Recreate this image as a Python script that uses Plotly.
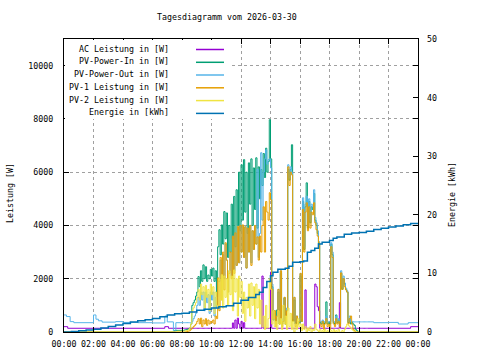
import plotly.graph_objects as go

DAY = "2026-03-30"

def ts(s):
    if s == "24:00":
        return "2026-03-31 00:00"
    return f"{DAY} {s}"

# day grid, 5-minute samples 08:00 .. 20:30
DAY_T = [f"{8 + i // 12:02d}:{(i % 12) * 5:02d}" for i in range(151)]

# ---------------- AC Leistung [W]
AC_MORN_T = ["00:00", "00:15", "06:50", "07:05"]
AC_MORN = [200, 140, 200, 140]
AC_DAY = (
    [140] * 12 +  # 08
    [140] * 12 +  # 09
    [140] * 12 +  # 10
    [140, 140, 140, 140, 140, 340, 140, 450, 140, 520, 300, 140] +  # 11
    [400, 140, 350, 140, 140, 140, 140, 140, 140, 140, 140, 140] +  # 12
    [140, 140, 140, 140, 140, 2100, 140, 140, 140, 140, 140, 140] +  # 13
    [2250, 140, 140, 140, 140, 140, 140, 140, 140, 140, 140, 140] +  # 14
    [140] * 12 +  # 15
    [140, 140, 140, 140, 1580, 140, 140, 140, 140, 140, 140, 140] +  # 16
    [1800, 1700, 950, 800, 140, 140, 140, 140, 140, 140, 140, 140] +  # 17
    [140, 140, 140, 140, 140, 140, 140, 140, 1100, 140, 140, 140] +  # 18
    [140] * 12 +  # 19
    [140] * 7     # 20
)
AC_EVE_T = ["20:35", "23:30", "24:00"]
AC_EVE = [140, 200, 200]

# ---------------- PV-Power-In [W]
PVIN_MORN_T = ["00:00", "07:30"]
PVIN_MORN = [0, 60]
PVIN_DAY = (
    [60, 60, 80, 90, 100, 120, 150, 300, 1000, 1100, 1200, 1350] +
    [1500, 2080, 1700, 2300, 1900, 2520, 2000, 2450, 1900, 2140, 2000, 2350] +
    [2100, 2400, 1900, 2300, 1330, 3200, 3840, 2900, 4020, 3300, 4520, 3500] +
    [4470, 2800, 4000, 3000, 4800, 3500, 5090, 3200, 5340, 4000, 6000, 3800] +
    [6280, 4200, 6470, 4500, 6000, 3700, 6350, 4800, 6500, 4000, 6160, 4600] +
    [6540, 3900, 6200, 5000, 6100, 5500, 6700, 5800, 6900, 6000, 6400, 7970] +
    [6500, 1700, 450, 700, 300, 830, 1500, 300, 2200, 300, 400, 1280] +
    [300, 800, 6100, 5700, 6100, 7030, 400, 1200, 300, 500, 300, 350] +
    [2100, 400, 4900, 3100, 4700, 5600, 3900, 4900, 4100, 4700, 4600, 5200] +
    [4200, 4000, 3700, 3300, 350, 300, 400, 300, 350, 1130, 300, 350] +
    [300, 3300, 2900, 350, 300, 640, 350, 450, 300, 2200, 1600, 2000] +
    [1800, 1600, 1500, 350, 500, 300, 350, 300, 250, 100, 50, 0] +
    [0, 0, 0, 0, 0, 0, 0]
)
PVIN_EVE_T = ["20:35", "24:00"]
PVIN_EVE = [0, 0]

# ---------------- PV-Power-Out [W]
PVOUT_MORN_T = ["00:00", "00:10", "00:25", "00:40", "02:00", "02:10", "02:20",
                "02:35", "03:30", "04:00", "05:00", "06:00", "06:50", "07:00",
                "07:25", "07:35"]
PVOUT_MORN = [640, 580, 390, 350, 640, 480, 420, 370, 390, 360, 350, 340,
              600, 380, 0, 350]
PVOUT_DAY = (
    [350, 350, 350, 350, 350, 350, 350, 350, 400, 500, 600, 700] +
    [1000, 1300, 1000, 1500, 1200, 1500, 800, 1500, 1100, 1400, 700, 1500] +
    [1200, 1500, 600, 1300, 900, 1900, 1900, 2700, 2100, 2900, 2000, 3300] +
    [2700, 1500, 2300, 3000, 2100, 3600, 2300, 3700, 2500, 3950, 2600, 4000] +
    [3000, 4000, 2800, 3950, 2400, 3900, 3000, 4000, 2600, 3800, 3100, 4000] +
    [3300, 6100, 2800, 3700, 6730, 4200, 6000, 6500, 6840, 6300, 6470, 6500] +
    [6160, 1800, 500, 800, 380, 600, 1600, 380, 2300, 380, 500, 1300] +
    [380, 900, 6280, 5800, 6200, 6000, 500, 1300, 380, 600, 380, 400] +
    [2200, 500, 5040, 3200, 4800, 5100, 4000, 5000, 4200, 4800, 4700, 5340] +
    [4300, 4100, 3800, 3400, 400, 380, 450, 380, 400, 600, 380, 400] +
    [380, 3350, 3000, 400, 380, 600, 400, 500, 380, 2300, 1700, 2100] +
    [1840, 1650, 1550, 400, 600, 380, 400, 380, 380, 380, 380, 380] +
    [380, 380, 380, 380, 380, 380, 380]
)
PVOUT_EVE_T = ["20:35", "21:00", "22:00", "22:40", "23:20", "24:00"]
PVOUT_EVE = [380, 350, 360, 300, 350, 350]

# ---------------- PV-1 Leistung [W]
PV1_MORN_T = ["00:00", "07:30"]
PV1_MORN = [0, 0]
PV1_DAY = (
    [0, 0, 0, 10, 20, 30, 50, 100, 150, 200, 250, 300] +
    [400, 500, 300, 520, 200, 450, 300, 500, 250, 450, 300, 400] +
    [350, 450, 300, 600, 500, 2030, 800, 2800, 1200, 3000, 1580, 3350] +
    [2700, 1500, 2200, 3000, 2000, 3600, 2200, 3720, 2500, 3960, 2600, 4000] +
    [3000, 4020, 2800, 3950, 2400, 3900, 3000, 4000, 2500, 3800, 3100, 4000] +
    [3300, 3570, 2700, 3600, 3000, 4000, 4700, 3000, 4900, 4500, 4200, 5230] +
    [4960, 1600, 500, 800, 200, 600, 1600, 300, 2300, 200, 400, 1300] +
    [300, 800, 6200, 5500, 6000, 5900, 400, 1300, 200, 600, 300, 400] +
    [2200, 400, 4600, 3000, 4500, 4850, 3800, 4700, 3900, 4500, 4400, 4850] +
    [4100, 3840, 3600, 3350, 300, 200, 400, 100, 300, 500, 200, 300] +
    [100, 3200, 2800, 300, 200, 500, 300, 400, 200, 2220, 1600, 2000] +
    [1700, 1580, 1500, 300, 500, 600, 300, 100, 50, 0, 0, 0] +
    [0, 0, 0, 0, 0, 0, 0]
)
PV1_EVE_T = ["20:35", "24:00"]
PV1_EVE = [0, 0]

# ---------------- PV-2 Leistung [W]
PV2_MORN_T = ["00:00", "07:40"]
PV2_MORN = [0, 30]
PV2_DAY = (
    [30, 30, 40, 50, 60, 80, 150, 300, 800, 900, 1000, 1100] +
    [1300, 1600, 1200, 1800, 1400, 1700, 900, 1750, 1300, 1600, 800, 1800] +
    [1400, 1700, 700, 1500, 1000, 900, 2000, 1200, 2150, 900, 2100, 1300] +
    [2000, 1000, 2300, 1400, 2100, 800, 2330, 1500, 2000, 600, 2100, 1300] +
    [1900, 700, 1500, 400, 1300, 900, 1800, 600, 1840, 1000, 1700, 500] +
    [1800, 900, 1600, 300, 1200, 200, 600, 100, 1000, 150, 500, 2000] +
    [1600, 300, 800, 200, 400, 100, 800, 300, 500, 100, 1000, 300] +
    [600, 100, 900, 200, 700, 100, 400, 0, 300, 100, 500, 200] +
    [300, 50, 300, 100, 200, 0, 150, 50, 200, 0, 100, 50] +
    [300, 100, 50, 0, 100, 0, 50, 0, 100, 0, 50, 0] +
    [0, 50, 0, 100, 0, 50, 0, 100, 0, 0, 50, 0] +
    [100, 200, 300, 250, 200, 150, 100, 50, 0, 0, 0, 0] +
    [0, 0, 0, 0, 0, 0, 0]
)
PV2_EVE_T = ["20:35", "24:00"]
PV2_EVE = [0, 0]

# ---------------- Energie [kWh]
EN_T = ["00:00", "00:30", "01:00", "01:30", "02:00", "02:30", "03:00", "03:30",
        "04:00", "04:30", "05:00", "05:30", "06:00", "06:30", "07:00", "07:30",
        "08:00", "08:30", "09:00", "09:30", "10:00", "10:30", "11:00", "11:30",
        "12:00", "12:30", "13:00", "13:15", "13:30", "13:45", "14:00", "14:10",
        "14:30", "15:00", "15:15", "15:30", "16:00", "16:15", "16:30", "16:45",
        "17:00", "17:15", "17:30", "18:00", "18:15", "18:30", "19:00", "19:30",
        "20:00", "20:30", "21:00", "21:30", "22:00", "22:30", "23:00", "23:30",
        "24:00"]
EN = [0.0, 0.1, 0.2, 0.35, 0.45, 0.7, 0.95, 1.2,
      1.45, 1.7, 1.9, 2.1, 2.3, 2.6, 2.9, 3.1,
      3.2, 3.4, 3.7, 3.9, 4.1, 4.3, 4.5, 4.9,
      5.4, 5.9, 6.4, 6.8, 7.6, 8.6, 9.6, 10.2,
      10.7, 10.9, 11.2, 11.9, 12.0, 12.1, 13.6, 13.9,
      14.3, 15.0, 15.3, 15.6, 16.0, 16.2, 16.7, 16.9,
      17.0, 17.2, 17.5, 17.7, 17.9, 18.1, 18.3, 18.5,
      18.6]

NAMES = ["AC Leistung in [W]", "PV-Power-In in [W]", "PV-Power-Out in [W]",
         "PV-1 Leistung in [W]", "PV-2 Leistung in [W]", "Energie in [kWh]"]
COLORS = ["#9400d3", "#009e73", "#56b4e9", "#e69f00", "#f0e442", "#0072b2"]

series = [
    (AC_MORN_T, AC_MORN, AC_DAY, AC_EVE_T, AC_EVE),
    (PVIN_MORN_T, PVIN_MORN, PVIN_DAY, PVIN_EVE_T, PVIN_EVE),
    (PVOUT_MORN_T, PVOUT_MORN, PVOUT_DAY, PVOUT_EVE_T, PVOUT_EVE),
    (PV1_MORN_T, PV1_MORN, PV1_DAY, PV1_EVE_T, PV1_EVE),
    (PV2_MORN_T, PV2_MORN, PV2_DAY, PV2_EVE_T, PV2_EVE),
]

FONT = "DejaVu Sans Mono"
fig = go.Figure()
for k, (mt, mv, dv, et, ev) in enumerate(series):
    xs = [ts(t) for t in mt] + [ts(t) for t in DAY_T] + [ts(t) for t in et]
    ys = list(mv) + list(dv) + list(ev)
    fig.add_trace(go.Scatter(x=xs, y=ys, mode="lines", name=NAMES[k],
                             line=dict(color=COLORS[k], width=1, shape="hv"),
                             showlegend=False))
fig.add_trace(go.Scatter(x=[ts(t) for t in EN_T], y=EN, mode="lines",
                         name=NAMES[5], yaxis="y2",
                         line=dict(color=COLORS[5], width=1.5, shape="hv"),
                         showlegend=False))

L, R, T, B = 64, 62, 39, 28
PW, PH = 480 - L - R, 360 - T - B

def px(xp):
    return (xp - L) / PW

def py(yp):
    return (360 - B - yp) / PH

shapes = [dict(type="rect", xref="paper", yref="paper", x0=px(65), x1=px(229),
               y0=py(119), y1=py(40), fillcolor="white", line=dict(width=0),
               layer="above")]
annotations = []
rows = [48.5, 61.3, 74, 86.8, 99.6, 112.4]
for k, name in enumerate(NAMES):
    annotations.append(dict(x=px(171), y=py(rows[k]), xref="paper", yref="paper",
                            text=name, showarrow=False, xanchor="right",
                            yanchor="middle", font=dict(family=FONT, size=8.3, color="black")))
    shapes.append(dict(type="line", xref="paper", yref="paper", x0=px(196),
                       x1=px(224), y0=py(rows[k] + 1), y1=py(rows[k] + 1),
                       line=dict(color=COLORS[k], width=1.5), layer="above"))

annotations.append(dict(x=px(227), y=py(17.5), xref="paper", yref="paper",
                        text="Tagesdiagramm vom 2026-03-30", showarrow=False,
                        xanchor="center", yanchor="middle",
                        font=dict(family=FONT, size=8.3, color="black")))
annotations.append(dict(x=px(10), y=py(193), xref="paper", yref="paper",
                        text="Leistung [W]", showarrow=False, textangle=-90,
                        xanchor="center", yanchor="middle",
                        font=dict(family=FONT, size=8.3, color="black")))
annotations.append(dict(x=px(452), y=py(194), xref="paper", yref="paper",
                        text="Energie [kWh]", showarrow=False, textangle=-90,
                        xanchor="center", yanchor="middle",
                        font=dict(family=FONT, size=8.3, color="black")))

grid = dict(showgrid=True, gridcolor="#a0a0a0", gridwidth=1, griddash="3px,3px")
fig.update_layout(
    width=480, height=360,
    margin=dict(l=L, r=R, t=T, b=B, pad=0),
    paper_bgcolor="white", plot_bgcolor="white",
    font=dict(family=FONT, size=8.3, color="black"),
    showlegend=False,
    shapes=shapes, annotations=annotations,
    xaxis=dict(type="date", range=[ts("00:00"), ts("24:00")],
               tickformat="%H:%M", dtick=2 * 3600 * 1000,
               tick0=ts("00:00"), ticks="inside", ticklen=5,
               tickcolor="black", showline=True, linecolor="black",
               linewidth=1, mirror="ticks", zeroline=False,
               ticklabelstandoff=4, **grid),
    yaxis=dict(range=[0, 11000], dtick=2000, ticks="inside", ticklen=5,
               tickcolor="black", showline=True, linecolor="black",
               linewidth=1, mirror="ticks", zeroline=False,
               ticklabelstandoff=8, tickformat="d", **grid),
    yaxis2=dict(range=[0, 50], dtick=10, overlaying="y", side="right",
                ticks="inside", ticklen=5, tickcolor="black",
                showline=False, showgrid=False, zeroline=False,
                ticklabelstandoff=8),
)

fig.write_html("out.html", config={"displayModeBar": False},
               post_script="document.body.style.margin='0';document.body.style.padding='0';")
